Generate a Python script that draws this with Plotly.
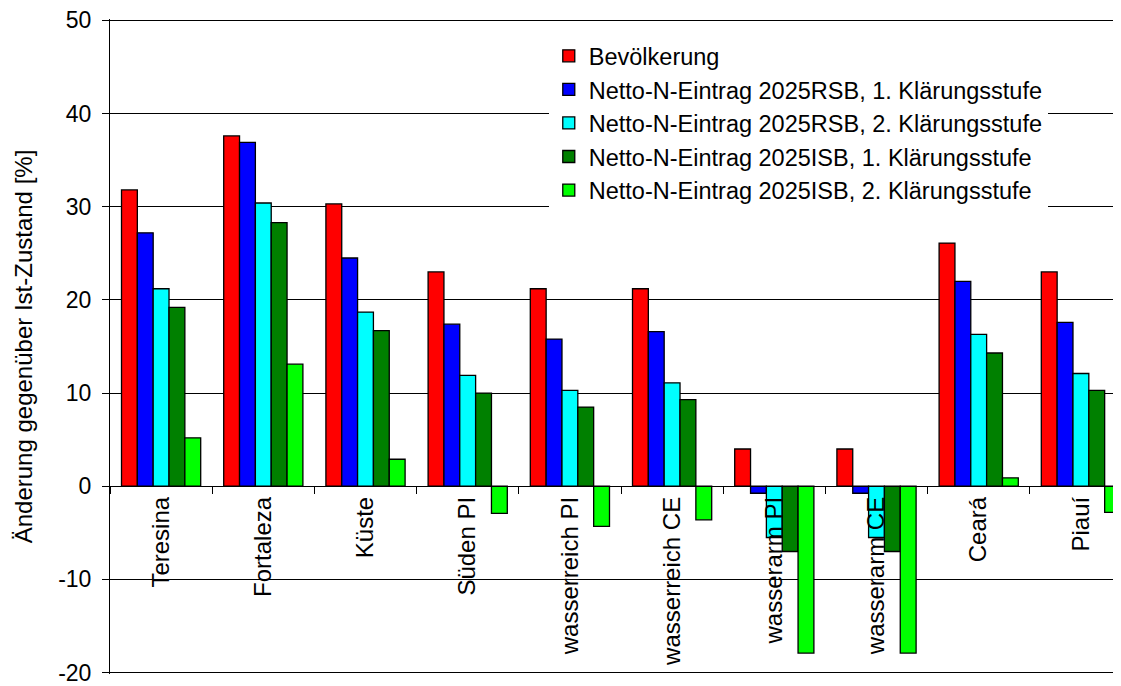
import plotly.graph_objects as go

categories = ["Teresina", "Fortaleza", "Küste", "Süden PI", "wasserreich PI",
              "wasserreich CE", "wasserarm PI", "wasserarm CE", "Ceará", "Piauí"]

series_names = [
    "Bevölkerung",
    "Netto-N-Eintrag 2025RSB, 1. Klärungsstufe",
    "Netto-N-Eintrag 2025RSB, 2. Klärungsstufe",
    "Netto-N-Eintrag 2025ISB, 1. Klärungsstufe",
    "Netto-N-Eintrag 2025ISB, 2. Klärungsstufe",
]
bevoelkerung = [31.8, 37.6, 30.3, 23.0, 21.2, 21.2, 4.0, 4.0, 26.1, 23.0]
rsb_1 = [27.2, 36.9, 24.5, 17.4, 15.8, 16.6, -0.75, -0.75, 22.0, 17.6]
rsb_2 = [21.2, 30.4, 18.7, 11.9, 10.3, 11.1, -5.5, -5.5, 16.3, 12.1]
isb_1 = [19.2, 28.3, 16.7, 10.0, 8.5, 9.3, -7.0, -7.0, 14.3, 10.3]
isb_2 = [5.2, 13.1, 2.9, -2.9, -4.3, -3.6, -17.9, -17.9, 0.9, -2.8]

y_tick_values = [-20, -10, 0, 10, 20, 30, 40, 50]
y_tick_labels = ["-20", "-10", "0", "10", "20", "30", "40", "50"]

colors = ["#FF0000", "#0000FF", "#00FFFF", "#008000", "#00FF00"]
all_values = [bevoelkerung, rsb_1, rsb_2, isb_1, isb_2]

FONT = "Liberation Sans, Arial, sans-serif"
Y_MIN, Y_MAX = -20.15, 50.15

fig = go.Figure()
for name, vals, col in zip(series_names, all_values, colors):
    fig.add_trace(go.Bar(
        x=categories, y=vals, name=name,
        marker=dict(color=col, line=dict(color="black", width=1.3)),
    ))

# the page body adds an 8px offset; margins compensate so the plot lands at
# x 110..1121, y 20..673 in the browser window
fig.update_layout(
    width=1121, height=686,
    margin=dict(l=102, r=8, t=11, b=20, autoexpand=False),
    paper_bgcolor="white", plot_bgcolor="white",
    barmode="group", bargap=0.225, bargroupgap=0,
    font=dict(family=FONT, size=23, color="black"),
    showlegend=True,
    legend=dict(
        x=0.434, y=0.977, xanchor="left", yanchor="top",
        bgcolor="white", borderwidth=0,
        font=dict(family=FONT, size=23.5, color="black"),
        itemwidth=30, tracegroupgap=0,
    ),
    xaxis=dict(
        type="category", automargin=False,
        range=[-0.5, -0.5 + 1011 / 102.2],
        anchor="free", position=(0 - Y_MIN) / (Y_MAX - Y_MIN),
        showline=True, linecolor="black", linewidth=1,
        ticks="outside", tickson="boundaries", ticklen=7, tickcolor="black",
        tickangle=-90, showgrid=False, ticklabeloverflow="allow",
        tickfont=dict(family=FONT, size=24, color="black"),
    ),
    yaxis=dict(
        automargin=False,
        range=[Y_MIN, Y_MAX],
        tickmode="array", tickvals=y_tick_values, ticktext=y_tick_labels,
        showline=True, linecolor="black", linewidth=1,
        ticks="outside", ticklen=7, tickcolor="black",
        ticklabelstandoff=6, ticklabeloverflow="allow",
        showgrid=True, gridcolor="black", gridwidth=1,
        zeroline=True, zerolinecolor="black", zerolinewidth=1,
        tickfont=dict(family=FONT, size=23, color="black"),
        title=dict(text="Änderung gegenüber Ist-Zustand [%]",
                   font=dict(family=FONT, size=24, color="black"), standoff=18),
    ),
)

fig.write_html("out.html")
